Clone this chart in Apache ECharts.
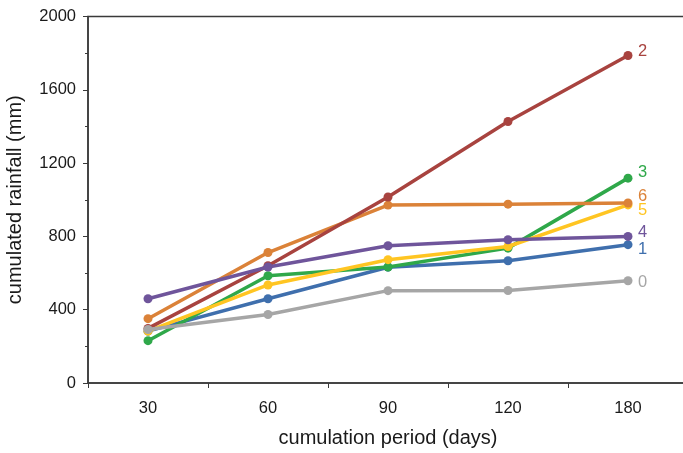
<!DOCTYPE html>
<html>
<head>
<meta charset="utf-8">
<script src="https://cdn.jsdelivr.net/npm/echarts@6/dist/echarts.min.js"></script>
<style>
  html, body { margin: 0; padding: 0; background: #fff; }
  #chart { width: 683px; height: 453px; }
</style>
</head>
<body>
<div id="chart"></div>
<script>
// Cumulation periods (days)
const periods = ['30', '60', '90', '120', '180'];

// Cumulated rainfall (mm) per class
const class0 = [292, 374, 504, 505, 558];
const class1 = [283, 460, 632, 667, 755];
const class2 = [298, 640, 1015, 1427, 1787];
const class3 = [231, 585, 633, 736, 1118];
const class4 = [460, 633, 749, 782, 800];
const class5 = [283, 535, 673, 745, 972];
const class6 = [351, 712, 971, 976, 982];

// Drawing order, bottom to top
const seriesDefs = [
  { name: '1', data: class1, color: '#3F6FAD', dy: 5 },
  { name: '3', data: class3, color: '#2FA84A', dy: -6 },
  { name: '5', data: class5, color: '#FFC522', dy: 6 },
  { name: '6', data: class6, color: '#DB8238', dy: -7 },
  { name: '2', data: class2, color: '#A8433F', dy: -4 },
  { name: '4', data: class4, color: '#6F559B', dy: -4 },
  { name: '0', data: class0, color: '#A6A6A6', dy: 2 }
];

const font = 'Liberation Sans, Arial, sans-serif';

const chart = echarts.init(document.getElementById('chart'), null, { renderer: 'canvas' });

chart.setOption({
  animation: false,
  backgroundColor: '#ffffff',
  grid: {
    left: 88, right: -5, top: 16.5, bottom: 70,
    containLabel: false,
    outerBoundsMode: 'none',
    show: true, borderColor: '#3a3a3a', borderWidth: 1.5, backgroundColor: 'transparent'
  },
  xAxis: {
    type: 'category',
    data: periods,
    boundaryGap: true,
    name: 'cumulation period (days)',
    nameLocation: 'middle',
    nameGap: 45,
    nameTextStyle: { fontFamily: font, fontSize: 20, color: '#1a1a1a' },
    axisLine: { lineStyle: { color: '#3a3a3a', width: 1.5 } },
    axisTick: { show: true, length: 5, inside: false, lineStyle: { color: '#3a3a3a', width: 1 } },
    axisLabel: { fontFamily: font, fontSize: 16.5, color: '#1a1a1a', margin: 17 },
    splitLine: { show: false }
  },
  yAxis: {
    type: 'value',
    min: 0, max: 2000, interval: 400,
    name: 'cumulated rainfall (mm)',
    nameLocation: 'middle',
    nameRotate: 90,
    nameGap: 63,
    nameTextStyle: { fontFamily: font, fontSize: 20, color: '#1a1a1a' },
    axisLine: { show: true, lineStyle: { color: '#3a3a3a', width: 1.5 } },
    axisTick: { show: true, length: 5, lineStyle: { color: '#3a3a3a', width: 1 } },
    minorTick: { show: true, splitNumber: 2, length: 3, lineStyle: { color: '#3a3a3a', width: 1 } },
    axisLabel: { fontFamily: font, fontSize: 16.5, color: '#1a1a1a', margin: 12, formatter: v => String(v) },
    splitLine: { show: false }
  },
  series: seriesDefs.map((s, i) => ({
    name: s.name,
    type: 'line',
    data: s.data,
    symbol: 'circle',
    symbolSize: 9,
    lineStyle: { color: s.color, width: 3.5 },
    itemStyle: { color: s.color },
    endLabel: {
      show: true,
      formatter: s.name,
      color: s.color,
      fontFamily: font,
      fontSize: 16.5,
      distance: 10,
      offset: [0, s.dy]
    },
    z: 2 + i
  }))
});
</script>
</body>
</html>
